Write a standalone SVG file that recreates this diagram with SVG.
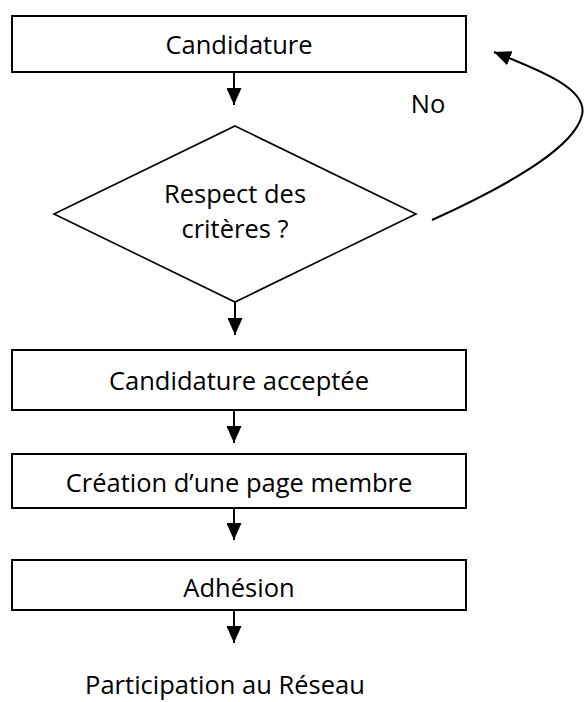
<svg xmlns="http://www.w3.org/2000/svg" width="584" height="702" viewBox="0 0 584 702">
<style>
.box{fill:#fff;stroke:#000;stroke-width:2}
.dia{fill:#fff;stroke:#000;stroke-width:1.6}
.t{font-family:"Open Sans","Noto Sans","Liberation Sans",sans-serif;font-size:25.5px;fill:#000;text-anchor:middle}
.c{fill:none;stroke:#000;stroke-width:2}
</style>
<defs>
<marker id="ah" markerUnits="userSpaceOnUse" markerWidth="17" markerHeight="15" refX="17" refY="7.5" orient="auto">
<path d="M0,0 L17,7.5 L0,15 z" fill="#000"/>
</marker>
</defs>
<rect width="584" height="702" fill="#fff"/>
<g id="connectors">
<line class="c" x1="234" y1="72" x2="234" y2="105" marker-end="url(#ah)"/>
<line class="c" x1="235" y1="302" x2="235" y2="335" marker-end="url(#ah)"/>
<line class="c" x1="234" y1="410" x2="234" y2="443" marker-end="url(#ah)"/>
<line class="c" x1="234" y1="508" x2="234" y2="540" marker-end="url(#ah)"/>
<line class="c" x1="234" y1="610" x2="234" y2="643" marker-end="url(#ah)"/>
<path class="c" d="M432,220 C520,180 575,145 582,115 C588,90 545,72 494,52" marker-end="url(#ah)"/>
<text class="t" x="428" y="113">No</text>
</g>
<g id="candidature">
<rect class="box" x="12" y="16" width="454" height="56"/>
<text class="t" x="239" y="54">Candidature</text>
</g>
<g id="criteres">
<polygon class="dia" points="235,126 416,214 235,302 54,214"/>
<text class="t" x="235" y="203">Respect des</text>
<text class="t" x="235" y="238">critères ?</text>
</g>
<g id="acceptee">
<rect class="box" x="12" y="350" width="454" height="60"/>
<text class="t" x="239" y="390">Candidature acceptée</text>
</g>
<g id="creation">
<rect class="box" x="12" y="454" width="454" height="54"/>
<text class="t" x="239" y="492">Création d’une page membre</text>
</g>
<g id="adhesion">
<rect class="box" x="12" y="560" width="454" height="50"/>
<text class="t" x="239" y="597">Adhésion</text>
</g>
<g id="participation">
<text class="t" x="225" y="694">Participation au Réseau</text>
</g>
</svg>
